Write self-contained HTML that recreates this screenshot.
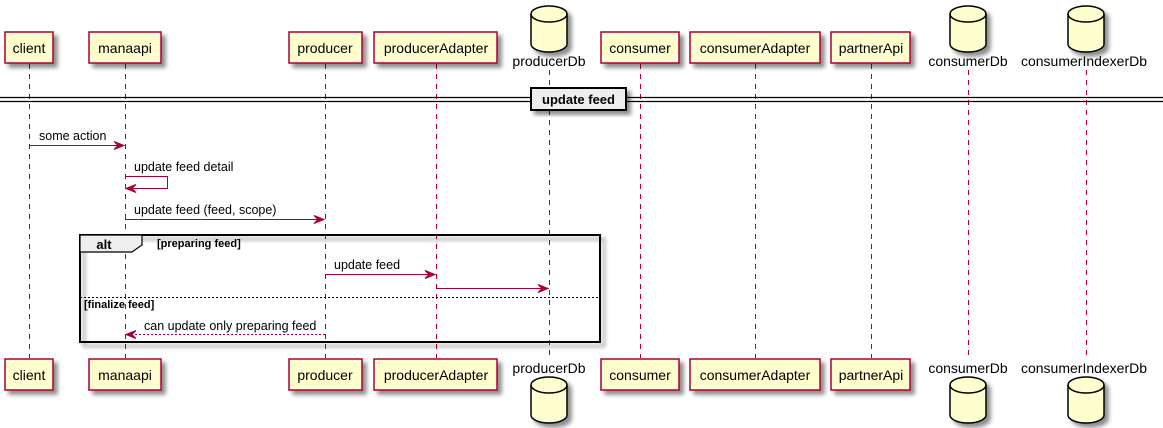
<!DOCTYPE html>
<html><head><meta charset="utf-8"><style>
html,body{margin:0;padding:0;background:#fff;}
svg{display:block;font-family:"Liberation Sans",sans-serif;}
</style></head><body>
<svg width="1163" height="428" viewBox="0 0 1163 428" xmlns="http://www.w3.org/2000/svg">
<defs>
<filter id="sh" x="-20%" y="-20%" width="150%" height="150%"><feGaussianBlur in="SourceAlpha" stdDeviation="2"/><feOffset dx="4" dy="4"/><feComponentTransfer><feFuncA type="linear" slope="0.45"/></feComponentTransfer><feMerge><feMergeNode/><feMergeNode in="SourceGraphic"/></feMerge></filter>
</defs>
<g stroke="#A80036" stroke-width="1" stroke-dasharray="5,5">
<line x1="29.5" y1="64" x2="29.5" y2="358"/>
<line x1="125.5" y1="64" x2="125.5" y2="358"/>
<line x1="325.5" y1="64" x2="325.5" y2="358"/>
<line x1="436.5" y1="64" x2="436.5" y2="358"/>
<line x1="549.5" y1="70" x2="549.5" y2="358"/>
<line x1="640.5" y1="64" x2="640.5" y2="358"/>
<line x1="755.5" y1="64" x2="755.5" y2="358"/>
<line x1="871.5" y1="64" x2="871.5" y2="358"/>
<line x1="968.5" y1="70" x2="968.5" y2="358"/>
<line x1="1086.5" y1="70" x2="1086.5" y2="358"/>
</g>
<g fill="#FEFECE" stroke="#A80036" stroke-width="1.5" filter="url(#sh)">
<rect x="5" y="32" width="48" height="31"/>
<rect x="89" y="32" width="72" height="31"/>
<rect x="289" y="32" width="73" height="31"/>
<rect x="374" y="32" width="123" height="31"/>
<rect x="601" y="32" width="78" height="31"/>
<rect x="690" y="32" width="130" height="31"/>
<rect x="831" y="32" width="79" height="31"/>
<rect x="5" y="359" width="48" height="31"/>
<rect x="89" y="359" width="72" height="31"/>
<rect x="289" y="359" width="73" height="31"/>
<rect x="374" y="359" width="123" height="31"/>
<rect x="601" y="359" width="78" height="31"/>
<rect x="690" y="359" width="130" height="31"/>
<rect x="831" y="359" width="79" height="31"/>
</g>
<g fill="#FEFECE" stroke="#000" stroke-width="1.5" filter="url(#sh)">
<path d="M531,14 a18,8 0 0 1 36,0 v30 a18,8 0 0 1 -36,0 z"/>
<path d="M950,14 a18,8 0 0 1 36,0 v30 a18,8 0 0 1 -36,0 z"/>
<path d="M1068,14 a18,8 0 0 1 36,0 v30 a18,8 0 0 1 -36,0 z"/>
<path d="M531,385 a18,8 0 0 1 36,0 v30 a18,8 0 0 1 -36,0 z"/>
<path d="M950,385 a18,8 0 0 1 36,0 v30 a18,8 0 0 1 -36,0 z"/>
<path d="M1068,385 a18,8 0 0 1 36,0 v30 a18,8 0 0 1 -36,0 z"/>
</g>
<g fill="none" stroke="#000" stroke-width="1.5">
<path d="M531,14 a18,8 0 0 0 36,0"/><path d="M950,14 a18,8 0 0 0 36,0"/><path d="M1068,14 a18,8 0 0 0 36,0"/>
<path d="M531,385 a18,8 0 0 0 36,0"/><path d="M950,385 a18,8 0 0 0 36,0"/><path d="M1068,385 a18,8 0 0 0 36,0"/>
</g>
<g font-size="14" fill="#000" text-anchor="middle">
<text x="29" y="53">client</text><text x="125" y="53">manaapi</text><text x="325" y="53">producer</text><text x="436" y="53">producerAdapter</text><text x="640" y="53">consumer</text><text x="755" y="53">consumerAdapter</text><text x="871" y="53">partnerApi</text>
<text x="549" y="66">producerDb</text><text x="968" y="66">consumerDb</text><text x="1084" y="66">consumerIndexerDb</text>
<text x="29" y="380">client</text><text x="125" y="380">manaapi</text><text x="325" y="380">producer</text><text x="436" y="380">producerAdapter</text><text x="640" y="380">consumer</text><text x="755" y="380">consumerAdapter</text><text x="871" y="380">partnerApi</text>
<text x="549" y="373">producerDb</text><text x="968" y="373">consumerDb</text><text x="1084" y="373">consumerIndexerDb</text>
</g>
<g stroke="#000" stroke-width="1.2">
<line x1="0" y1="97.5" x2="1163" y2="97.5"/><line x1="0" y1="101.5" x2="1163" y2="101.5"/>
</g>
<rect x="531" y="88" width="95" height="22" fill="#EEEEEE" stroke="#000" stroke-width="2" filter="url(#sh)"/>
<text x="578.5" y="104" font-size="13" font-weight="bold" text-anchor="middle">update feed</text>
<rect x="80" y="235" width="520" height="107" fill="none" stroke="#000" stroke-width="2" filter="url(#sh)"/>
<path d="M80,235 H142 V245 L132,252 H80 Z" fill="#EEEEEE" stroke="#000" stroke-width="1.2"/>
<text x="104" y="249" font-size="13" font-weight="bold" text-anchor="middle">alt</text>
<text x="157" y="247" font-size="11" font-weight="bold">[preparing feed]</text>
<line x1="80" y1="297.5" x2="600" y2="297.5" stroke="#000" stroke-width="1" stroke-dasharray="2,2"/>
<text x="84" y="308" font-size="11" font-weight="bold">[finalize feed]</text>
<g stroke="#A80036" stroke-width="1" fill="none">
<line x1="29" y1="145.5" x2="123" y2="145.5"/>
<polyline points="125,176.5 167.5,176.5 167.5,188.5 127,188.5"/>
<line x1="125" y1="219.5" x2="323" y2="219.5"/>
<line x1="325" y1="274.5" x2="434" y2="274.5"/>
<line x1="436" y1="288.5" x2="547" y2="288.5"/>
<line x1="325" y1="334.5" x2="128" y2="334.5" stroke-dasharray="2,2"/>
</g>
<g fill="#A80036" stroke="#A80036" stroke-width="1">
<polygon points="114,141.5 124,145.5 114,149.5 118,145.5"/>
<polygon points="136,184.5 126,188.5 136,192.5 132,188.5"/>
<polygon points="314,215.5 324,219.5 314,223.5 318,219.5"/>
<polygon points="425,270.5 435,274.5 425,278.5 429,274.5"/>
<polygon points="538,284.5 548,288.5 538,292.5 542,288.5"/>
<polygon points="136,330.5 126,334.5 136,338.5 132,334.5"/>
</g>
<g font-size="12.5" fill="#000">
<text x="39" y="140">some action</text>
<text x="134" y="171">update feed detail</text>
<text x="134" y="214">update feed (feed, scope)</text>
<text x="334" y="269">update feed</text>
<text x="144" y="330">can update only preparing feed</text>
</g>
</svg>
</body></html>
